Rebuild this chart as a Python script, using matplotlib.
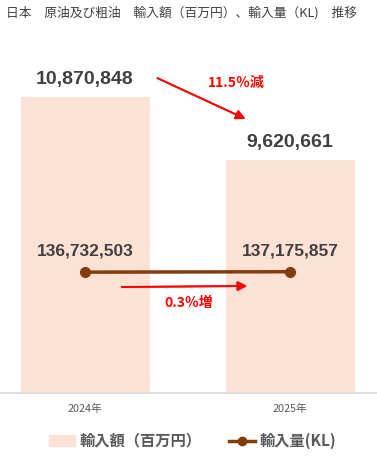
import matplotlib.pyplot as plt

plt.rcParams['font.family'] = ['Noto Sans CJK JP', 'DejaVu Sans']

years = ['2024年', '2025年']
amount = [10870848, 9620661]        # 輸入額（百万円）
volume = [136732503, 137175857]     # 輸入量(KL)

W, H = 377, 459
fig = plt.figure(figsize=(W / 100, H / 100), dpi=100)
ax = fig.add_axes([0, 1 - 393 / H, 1, (393 - 35) / H])
x = [0, 1]

bar_color = '#FBE2D5'
line_color = '#843C0C'
text_color = '#404040'

ax.bar(x, amount, width=0.63, color=bar_color, zorder=1)
ax.set_xlim(-0.415, 1.424)
ax.set_ylim(5.0e6, 12.1e6)
for s in ['top', 'left', 'right']:
    ax.spines[s].set_visible(False)
ax.spines['bottom'].set_color('#d9d9d9')
ax.spines['bottom'].set_linewidth(1.2)
ax.set_yticks([])
ax.set_xticks(x)
ax.set_xticklabels(years, fontsize=7.8, color='#595959')
ax.tick_params(axis='x', length=0, pad=8)

for xi, v in zip(x, amount):
    ax.annotate(f'{v:,}', (xi, v), xytext=(0, 12.5), textcoords='offset points',
                ha='center', va='center', fontsize=14, fontweight='bold',
                color=text_color, family=['Liberation Sans', 'DejaVu Sans'])

ax2 = ax.twinx()
ax2.set_ylim(0, 4.05e8)
ax2.set_yticks([])
for s in ax2.spines.values():
    s.set_visible(False)
ax2.plot(x, volume, color=line_color, lw=2.5, marker='o', markersize=7, zorder=3)
for xi, v in zip(x, volume):
    ax2.annotate(f'{v:,}', (xi, v), xytext=(0, 15), textcoords='offset points',
                 ha='center', va='center', fontsize=12.5, fontweight='bold',
                 color=text_color, family=['Liberation Sans', 'DejaVu Sans'])

def fxy(px, py):
    return (px / W, 1 - py / H)

# change arrows
fig.add_artist(plt.annotate('', xy=fxy(248, 120), xytext=fxy(155, 77),
                            xycoords='figure fraction',
                            arrowprops=dict(arrowstyle='-|>', color='red', lw=1.3,
                                            mutation_scale=14)))
fig.text(*fxy(236, 83), '11.5％減', color='red', fontsize=10, fontweight='bold',
         ha='center', va='center')
fig.add_artist(plt.annotate('', xy=fxy(250, 286), xytext=fxy(119, 287),
                            xycoords='figure fraction',
                            arrowprops=dict(arrowstyle='-|>', color='red', lw=1.3,
                                            mutation_scale=14)))
fig.text(*fxy(189, 303), '0.3％増', color='red', fontsize=10, fontweight='bold',
         ha='center', va='center')

fig.text(*fxy(6, 13), '日本　原油及び粗油　輸入額（百万円）、輸入量（KL)　推移',
         fontsize=9.2, color=text_color, ha='left', va='center')

# legend
h1 = plt.Rectangle((0, 0), 1, 1, color=bar_color)
h2, = ax.plot([], [], color=line_color, lw=2.5, marker='o', markersize=6)
fig.legend([h1, h2], ['輸入額（百万円）', '輸入量(KL)'], loc='center',
           bbox_to_anchor=fxy(193, 441), ncol=2, frameon=False,
           prop={'size': 11, 'weight': 'bold'}, labelcolor='#595959',
           handlelength=1.7, columnspacing=1.8, handletextpad=0.3)

fig.savefig('out.png', dpi=100)
